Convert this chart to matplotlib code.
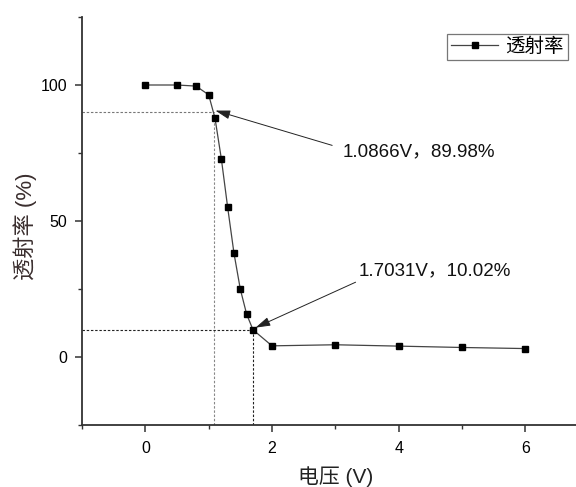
import matplotlib
matplotlib.use("Agg")
import matplotlib.pyplot as plt

plt.rcParams['font.family'] = ['Liberation Sans', 'Noto Sans CJK SC', 'DejaVu Sans']

# Data
voltage = [0, 0.5, 0.8, 1.0, 1.1, 1.2, 1.3, 1.4, 1.5, 1.6, 1.7, 2, 3, 4, 5, 6]
transmittance = [100, 100, 99.6, 96.4, 87.8, 72.9, 55.0, 38.1, 24.9, 15.7, 10.0, 4.1, 4.5, 4.0, 3.5, 3.1]
series_name = '透射率'
x_label = '电压 (V)'
y_label = '透射率 (%)'
x_ticks = [0, 2, 4, 6]
y_ticks = [0, 50, 100]
x_limits = (-1, 6.8)
y_limits = (-25, 125)
mark_hi = (1.0866, 89.98)
mark_lo = (1.7031, 10.02)
label_hi = '1.0866V，89.98%'
label_lo = '1.7031V，10.02%'

fig = plt.figure(figsize=(5.76, 4.87), dpi=100)
ax = fig.add_axes([82/576, 1-425/487, (576-82)/576, (425-17)/487])

ax.set_xlim(*x_limits)
ax.set_ylim(*y_limits)

# dashed guides
ax.plot([x_limits[0], mark_hi[0]], [mark_hi[1], mark_hi[1]], ls=(0, (2.2, 1.6)), lw=0.8, color='#777777', zorder=1)
ax.plot([mark_hi[0], mark_hi[0]], [y_limits[0], mark_hi[1]], ls=(0, (2.2, 1.6)), lw=0.8, color='#888888', zorder=1)
ax.plot([x_limits[0], mark_lo[0]], [mark_lo[1], mark_lo[1]], ls=(0, (2.2, 1.6)), lw=0.8, color='#222222', zorder=1)
ax.plot([mark_lo[0], mark_lo[0]], [y_limits[0], mark_lo[1]], ls=(0, (2.2, 1.6)), lw=0.8, color='#222222', zorder=1)

ax.plot(voltage, transmittance, color='#444444', lw=0.9, marker='s', markersize=4.2,
        markerfacecolor='black', markeredgecolor='black', label=series_name, zorder=3)

# annotations
ap = dict(arrowstyle='-|>,head_length=0.6,head_width=0.18', color='#222222', lw=0.7,
          shrinkA=0, shrinkB=0, mutation_scale=15)
ax.annotate('', xy=(1.106, 90.6), xytext=(2.95, 77.8), arrowprops=ap)
ax.annotate('', xy=(1.74, 10.8), xytext=(3.32, 27.5), arrowprops=ap)
ax.text(3.11, 75.3, label_hi, fontsize=13.5, ha='left', va='center', color='#111111')
ax.text(3.365, 31.8, label_lo, fontsize=13.5, ha='left', va='center', color='#111111')

# axes styling
for s in ['top', 'right']:
    ax.spines[s].set_visible(False)
for s in ['left', 'bottom']:
    ax.spines[s].set_linewidth(1.3)
    ax.spines[s].set_color('#333333')

ax.set_xticks(x_ticks)
ax.set_xticks([-1, 1, 3, 5], minor=True)
ax.set_yticks(y_ticks)
ax.set_yticks([-25, 25, 75, 125], minor=True)
ax.tick_params(which='major', direction='out', length=5, width=1.1, color='#333333',
               labelsize=11.5)
ax.tick_params(which='minor', direction='out', length=3, width=1.0, color='#333333')
ax.tick_params(axis='x', which='major', pad=6.5)
ax.tick_params(axis='y', which='major', pad=5.5)

ax.set_xlabel(x_label, fontsize=15, color='#222222', va='center')
ax.xaxis.set_label_coords((336-82)/(576-82), -(477-425)/(425-17), transform=ax.transAxes)
ax.set_ylabel(y_label, fontsize=16, color='#3a2e2e', va='center')
ax.yaxis.set_label_coords(-(82-25)/(576-82), (425-226)/(425-17), transform=ax.transAxes)

leg = ax.legend(loc='upper right', bbox_to_anchor=((568-82)/(576-82), (425-34)/(425-17)),
                borderaxespad=0, fontsize=14, handlelength=2.4, handletextpad=0.4,
                borderpad=0.2, fancybox=False, framealpha=1, edgecolor='#777777')
leg.get_frame().set_linewidth(0.9)

fig.savefig('out.png', dpi=100)
